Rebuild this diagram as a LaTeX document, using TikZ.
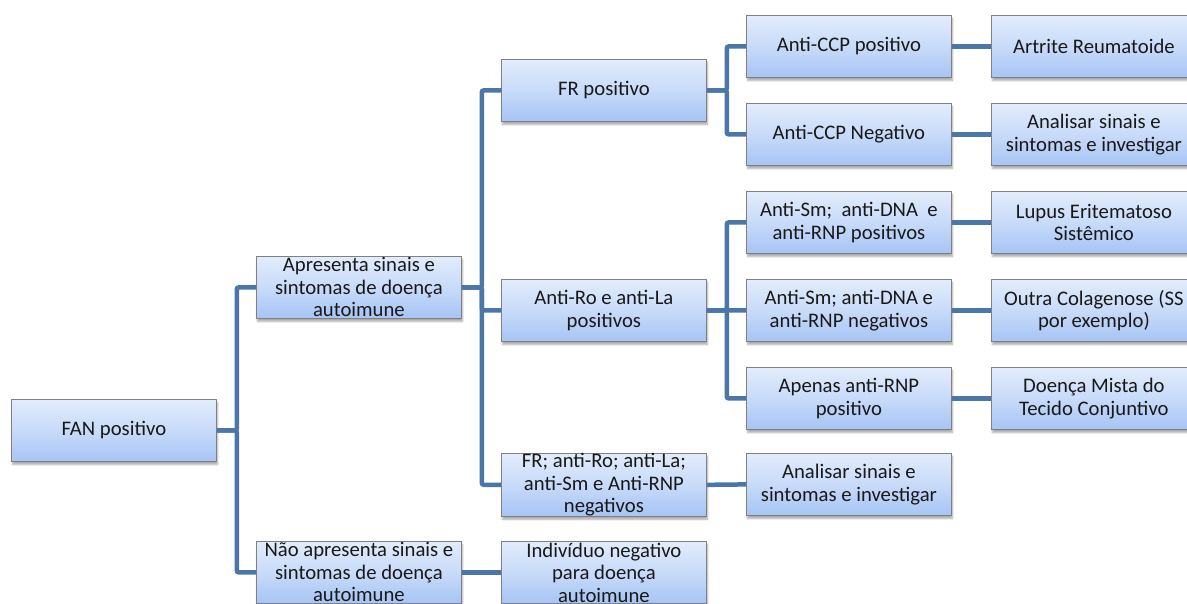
\documentclass[tikz,border=0pt]{standalone}
\usepackage{fontspec}
\setmainfont{Carlito}
\usetikzlibrary{shadows,shadows.blur}
\definecolor{linkblue}{RGB}{74,118,168}
\definecolor{boxtop}{RGB}{226,236,252}
\definecolor{boxmid}{RGB}{200,219,249}
\definecolor{boxbot}{RGB}{166,196,244}
\definecolor{boxborder}{RGB}{128,128,128}
\tikzset{
  box/.style={draw=boxborder, line width=0.8pt, top color=boxtop, bottom color=boxbot, middle color=boxmid,
    minimum width=205pt, minimum height=62pt, inner sep=0pt, anchor=north west, align=center,
    font=\fontsize{20.7}{22.5}\selectfont, text=black!90,
    blur shadow={shadow xshift=1pt, shadow yshift=-3pt, shadow opacity=35, shadow blur steps=6}},
  link/.style={draw=linkblue, line width=4.5pt, rounded corners=2pt}
}
\begin{document}
\begin{tikzpicture}[x=1pt,y=-1pt]
\useasboundingbox (0,0) rectangle (1187,603);
% column 1
\node[box] (fan) at (11,399) {FAN positivo};
% column 2
\node[box] (apr) at (256,256) {Apresenta sinais e\\sintomas de doença\\autoimune};
\node[box] (nao) at (256,541) {Não apresenta sinais e\\sintomas de doença\\autoimune};
% column 3
\node[box] (fr) at (501,59) {FR positivo};
\node[box] (ro) at (501,279) {Anti-Ro e anti-La\\positivos};
\node[box] (neg) at (501,453) {FR; anti-Ro; anti-La;\\anti-Sm e Anti-RNP\\negativos};
\node[box] (ind) at (501,541) {Indivíduo negativo\\para doença\\autoimune};
% column 4
\node[box] (ccpp) at (746,15) {Anti-CCP positivo};
\node[box] (ccpn) at (746,103) {Anti-CCP Negativo};
\node[box] (smp) at (746,191) {Anti-Sm;\ \ anti-DNA\ \ e\\anti-RNP positivos};
\node[box] (smn) at (746,279) {Anti-Sm; anti-DNA e\\anti-RNP negativos};
\node[box] (rnp) at (746,367) {Apenas anti-RNP\\positivo};
\node[box] (an2) at (746,453) {Analisar sinais e\\sintomas e investigar};
% column 5
\node[box] (ar) at (991,15) {Artrite Reumatoide};
\node[box] (an1) at (991,103) {Analisar sinais e\\sintomas e investigar};
\node[box] (les) at (991,191) {Lupus Eritematoso\\Sistêmico};
\node[box] (col) at (991,279) {Outra Colagenose (SS\\por exemplo)};
\node[box] (dmtc) at (991,367) {Doença Mista do\\Tecido Conjuntivo};
% connectors
\path[link] (fan.east) -- ++(20,0) |- (apr.west);
\path[link] (fan.east) -- ++(20,0) |- (nao.west);
\path[link] (apr.east) -- ++(20,0) |- (fr.west);
\path[link] (apr.east) -- ++(20,0) |- (ro.west);
\path[link] (apr.east) -- ++(20,0) |- (neg.west);
\path[link] (nao.east) -- (ind.west);
\path[link] (fr.east) -- ++(20,0) |- (ccpp.west);
\path[link] (fr.east) -- ++(20,0) |- (ccpn.west);
\path[link] (ro.east) -- ++(20,0) |- (smp.west);
\path[link] (ro.east) -- ++(20,0) |- (smn.west);
\path[link] (ro.east) -- ++(20,0) |- (rnp.west);
\path[link] (neg.east) -- (an2.west);
\path[link] (ccpp.east) -- (ar.west);
\path[link] (ccpn.east) -- (an1.west);
\path[link] (smp.east) -- (les.west);
\path[link] (smn.east) -- (col.west);
\path[link] (rnp.east) -- (dmtc.west);
\end{tikzpicture}
\end{document}
